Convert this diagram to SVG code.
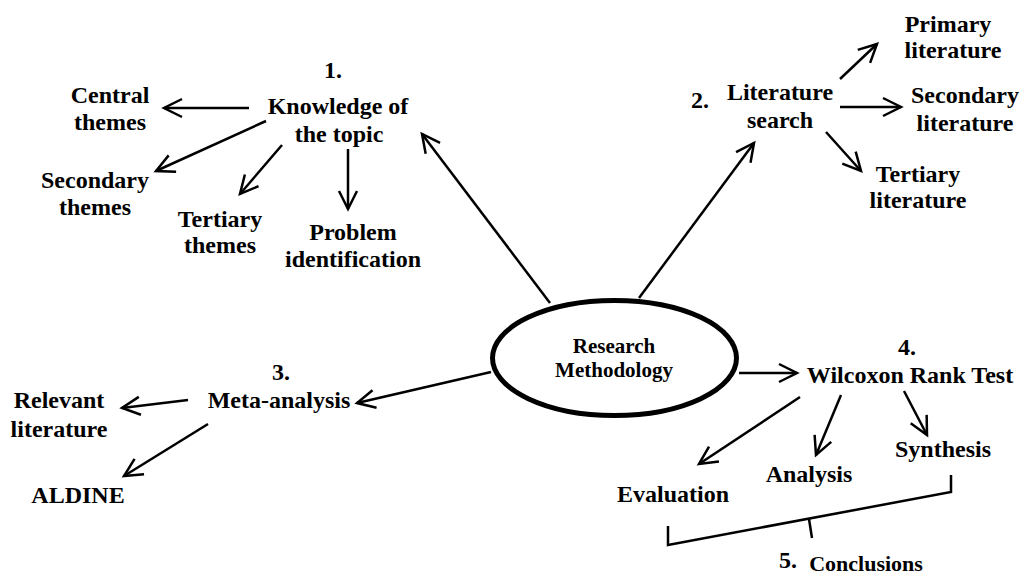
<svg xmlns="http://www.w3.org/2000/svg" width="1022" height="577" viewBox="0 0 1022 577">
  <style>
    text { font-family: "Liberation Serif", "Times New Roman", serif; font-weight: bold; font-size: 24px; fill: #000; text-anchor: middle; }
    .small { font-size: 21px; }
    .conn line, .conn path { stroke: #000; stroke-width: 2.5; fill: none; }
    .conn .arrow { marker-end: url(#ah); }
  </style>
  <defs>
    <marker id="ah" markerUnits="userSpaceOnUse" markerWidth="30" markerHeight="30" refX="0" refY="0" orient="auto" overflow="visible">
      <path d="M -18 -9 L 0 0 L -18 9" fill="none" stroke="#000" stroke-width="2.5" stroke-linejoin="miter"/>
    </marker>
  </defs>
  <rect width="1022" height="577" fill="#fff"/>

  <g id="connectors" class="conn">
    <line class="arrow" x1="550" y1="303" x2="422" y2="134"/>
    <line class="arrow" x1="639" y1="298" x2="754" y2="143"/>
    <line class="arrow" x1="491" y1="372" x2="357" y2="403"/>
    <line class="arrow" x1="739" y1="373" x2="797" y2="373"/>
    <line class="arrow" x1="249" y1="108" x2="164" y2="108"/>
    <line class="arrow" x1="266" y1="121" x2="156" y2="171"/>
    <line class="arrow" x1="282" y1="145" x2="240" y2="194"/>
    <line class="arrow" x1="348" y1="149" x2="348" y2="209"/>
    <line class="arrow" x1="840" y1="79" x2="877" y2="44"/>
    <line class="arrow" x1="840" y1="107" x2="901" y2="107"/>
    <line class="arrow" x1="826" y1="132" x2="861" y2="171"/>
    <line class="arrow" x1="188" y1="400" x2="122" y2="408"/>
    <line class="arrow" x1="208" y1="424" x2="124" y2="476"/>
    <line class="arrow" x1="800" y1="397" x2="699" y2="464"/>
    <line class="arrow" x1="841" y1="395" x2="816" y2="455"/>
    <line class="arrow" x1="904" y1="391" x2="927" y2="435"/>
    <path d="M 668 526 L 668 545 L 951 492 L 951 475" stroke-width="2"/>
    <line x1="809" y1="519" x2="812" y2="538" stroke-width="2"/>
  </g>

  <g id="center">
    <ellipse cx="614.5" cy="358" rx="122" ry="57.5" fill="#fff" stroke="#000" stroke-width="5"/>
    <text class="small" x="614" y="353">Research</text>
    <text class="small" x="614" y="377">Methodology</text>
  </g>

  <g id="knowledge">
    <text x="333" y="78">1.</text>
    <text x="338" y="114">Knowledge of</text>
    <text x="339" y="142">the topic</text>
  </g>
  <g id="central-themes">
    <text x="110" y="103">Central</text>
    <text x="110" y="130">themes</text>
  </g>
  <g id="secondary-themes">
    <text x="95" y="188">Secondary</text>
    <text x="95" y="215">themes</text>
  </g>
  <g id="tertiary-themes">
    <text x="220" y="227">Tertiary</text>
    <text x="220" y="253">themes</text>
  </g>
  <g id="problem">
    <text x="353" y="240">Problem</text>
    <text x="353" y="267">identification</text>
  </g>

  <g id="literature-search">
    <text x="700" y="108">2.</text>
    <text x="780" y="100">Literature</text>
    <text x="780" y="128">search</text>
  </g>
  <g id="primary-literature">
    <text x="948" y="32">Primary</text>
    <text x="953" y="58">literature</text>
  </g>
  <g id="secondary-literature">
    <text x="965" y="103">Secondary</text>
    <text x="965" y="131">literature</text>
  </g>
  <g id="tertiary-literature">
    <text x="918" y="182">Tertiary</text>
    <text x="918" y="208">literature</text>
  </g>

  <g id="meta-analysis">
    <text x="281" y="380">3.</text>
    <text x="279" y="408">Meta-analysis</text>
  </g>
  <g id="relevant-literature">
    <text x="59" y="408">Relevant</text>
    <text x="59" y="437">literature</text>
  </g>
  <g id="aldine">
    <text x="78" y="503">ALDINE</text>
  </g>

  <g id="wilcoxon">
    <text x="907" y="355">4.</text>
    <text x="910" y="383">Wilcoxon Rank Test</text>
  </g>
  <g id="evaluation">
    <text x="673" y="502">Evaluation</text>
  </g>
  <g id="analysis">
    <text x="809" y="482">Analysis</text>
  </g>
  <g id="synthesis">
    <text x="943" y="457">Synthesis</text>
  </g>
  <g id="conclusions">
    <text x="788" y="568">5.</text>
    <text class="small" x="866" y="571" style="font-size:22px">Conclusions</text>
  </g>
</svg>
